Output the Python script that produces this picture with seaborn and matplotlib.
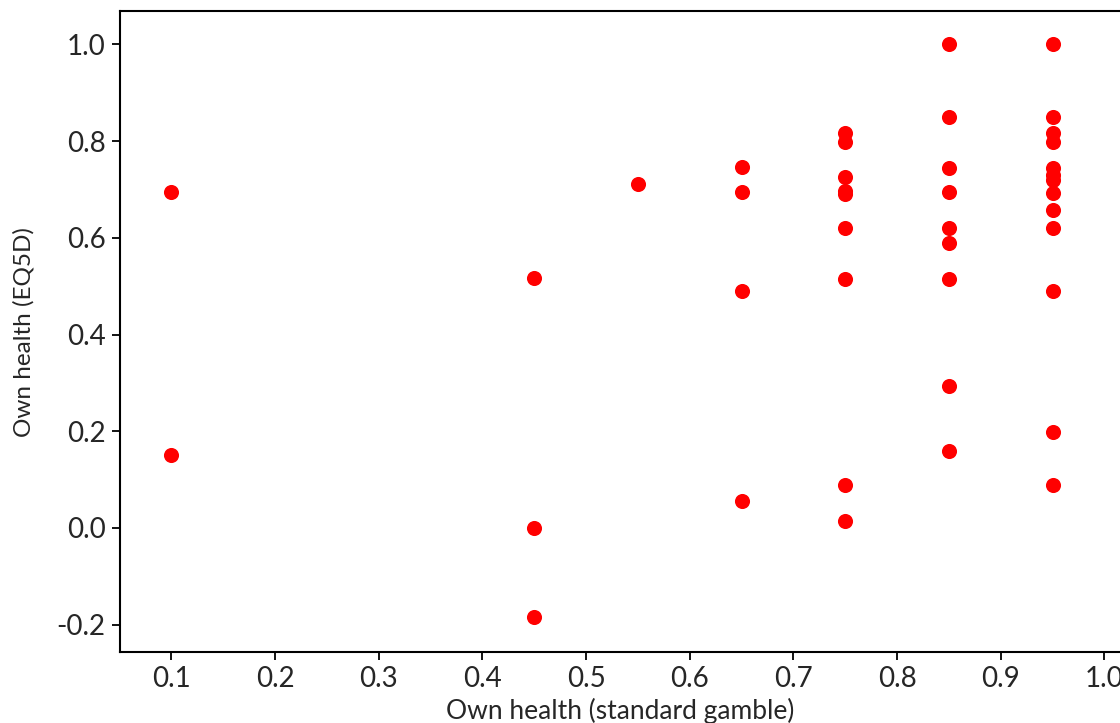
import pandas as pd
import matplotlib
matplotlib.use('Agg')
import matplotlib.pyplot as plt
import seaborn as sns

# values
sg_01 = [0.695, 0.151]
sg_045 = [0.517, 0.0, -0.184]
sg_055 = [0.711]
sg_065 = [0.747, 0.695, 0.49, 0.056]
sg_075 = [0.816, 0.798, 0.725, 0.697, 0.690, 0.62, 0.515, 0.089, 0.015]
sg_085 = [1.0, 0.85, 0.745, 0.694, 0.62, 0.589, 0.515, 0.294, 0.159]
sg_095 = [1.0, 0.85, 0.816, 0.799, 0.745, 0.73, 0.72, 0.692, 0.658, 0.62,
          0.489, 0.198, 0.089]

groups = {0.1: sg_01, 0.45: sg_045, 0.55: sg_055, 0.65: sg_065,
          0.75: sg_075, 0.85: sg_085, 0.95: sg_095}

rows = [(sg, eq) for sg, vals in groups.items() for eq in vals]
df = pd.DataFrame(rows, columns=['standard_gamble', 'eq5d'])

xticks = [0.1, 0.2, 0.3, 0.4, 0.5, 0.6, 0.7, 0.8, 0.9, 1.0]
yticks = [-0.2, 0.0, 0.2, 0.4, 0.6, 0.8, 1.0]

sns.set_style("white")
plt.rcParams['font.family'] = ['Lato', 'DejaVu Sans']
plt.rcParams['axes.unicode_minus'] = False

fig = plt.figure(figsize=(11.2, 7.23), dpi=100)
ax = fig.add_axes([0.1068, 0.0978, 0.8932, 0.887])

sns.scatterplot(data=df, x='standard_gamble', y='eq5d', ax=ax,
                color='#ff0000', s=118, linewidth=0, legend=False)

ax.set_xlim(0.05, 1.015)
ax.set_ylim(-0.257, 1.069)
ax.set_xticks(xticks)
ax.set_yticks(yticks)
ax.set_xticklabels([f'{t:.1f}' for t in xticks])
ax.set_yticklabels([f'{t:.1f}' for t in yticks])
ax.tick_params(axis='both', which='both', direction='out', length=6, width=1.3,
               color='black', labelsize=20, left=True, bottom=True, pad=4)

for side in ['left', 'bottom', 'top']:
    ax.spines[side].set_visible(True)
    ax.spines[side].set_color('black')
    ax.spines[side].set_linewidth(1.5)
ax.spines['right'].set_visible(False)

ax.set_xlabel('Own health (standard gamble)', fontsize=19, labelpad=4)
ax.set_ylabel('Own health (EQ5D)', fontsize=17.5, labelpad=16)

fig.savefig('out.png', dpi=100)
